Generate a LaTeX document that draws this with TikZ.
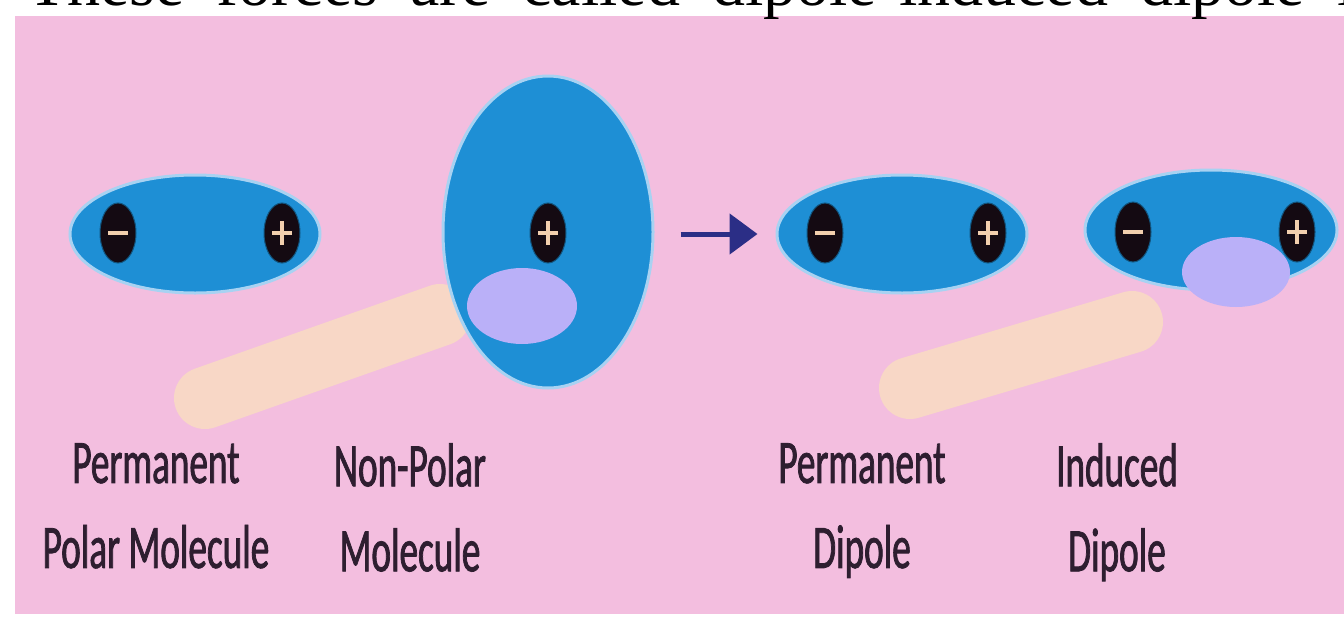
\documentclass[tikz,border=0pt]{standalone}
\usepackage{fontspec}
\usepackage{tikz}
\usetikzlibrary{arrows.meta,shapes.geometric,calc}
\setmainfont{Liberation Serif}
\newfontfamily\labelfont[FakeStretch=0.6,FakeBold=1.2]{Carlito}
\definecolor{pinkBg}{HTML}{F3BEDF}
\definecolor{molBlue}{HTML}{1E8FD5}
\definecolor{molEdge}{HTML}{A8D2F2}
\definecolor{chargeInk}{HTML}{140A12}
\definecolor{signPeach}{HTML}{F2CFAE}
\definecolor{blobLav}{HTML}{BAB0F8}
\definecolor{smearPeach}{HTML}{F8D7C6}
\definecolor{arrowNavy}{HTML}{2B2E86}
\definecolor{labelInk}{HTML}{2E1E30}
\tikzset{
  molecule/.style={ellipse, fill=molBlue, draw=molEdge, line width=3pt, inner sep=0pt},
  charge/.style={ellipse, fill=chargeInk, draw=molBlue!60!black, line width=1pt, inner sep=0pt, minimum width=36, minimum height=60},
  negcharge/.style={charge, path picture={\draw[signPeach, line width=4pt] (path picture bounding box.center) ++(-10,0) -- ++(20,0);}},
  poscharge/.style={charge, path picture={\draw[signPeach, line width=4pt] (path picture bounding box.center) ++(-10,0) -- ++(20,0);
      \draw[signPeach, line width=4pt] (path picture bounding box.center) ++(0,-12) -- ++(0,24);}},
  caption/.style={font=\labelfont\fontsize{62}{85}\selectfont, text=labelInk, align=center, anchor=north, inner sep=0pt},
  smear/.style={smearPeach, line width=62pt, line cap=round},
  arrflow/.style={-{Triangle[length=28pt, width=40pt]}, arrowNavy, line width=5pt},
}

\begin{document}
\begin{tikzpicture}[x=1pt, y=-1pt]
\useasboundingbox (0,0) rectangle (1344,616);
\fill[white] (0,0) rectangle (1344,616);
\fill[pinkBg] (15,16) rectangle (1344,614);

% heading line, only its lower edge shows
\begin{scope}
\clip (0,0) rectangle (1344,18);
\node[anchor=base west, inner sep=0pt, font=\fontsize{66}{72}\selectfont] (head) at (27,5) {\spaceskip=32pt These forces are called dipole-induced dipole interactions};
\end{scope}

% smudges behind the molecules
\draw[smear] (205,398) -- (440,315);
\draw[smear] (910,388) -- (1132,322);

% molecules
\node[molecule, minimum width=250, minimum height=118] (ppm) at (195,234) {};
\node[molecule, minimum width=210, minimum height=312] (npm) at (548,232) {};
\node[molecule, minimum width=250, minimum height=118] (pdip) at (902,234) {};
\node[molecule, minimum width=252, minimum height=120] (idip) at (1211,230) {};

% charge centres
\node[negcharge] (ppm-n) at (118,233) {};
\node[poscharge] (ppm-p) at (282,233) {};
\node[poscharge] (npm-p) at (548,233) {};
\node[negcharge] (pdip-n) at (825,233) {};
\node[poscharge] (pdip-p) at (988,233) {};
\node[negcharge] (idip-n) at (1133,232) {};
\node[poscharge] (idip-p) at (1297,232) {};

% lavender patches on top
\fill[blobLav] (522,306) ellipse [x radius=55, y radius=38];
\fill[blobLav] (1236,272) ellipse [x radius=54, y radius=35];

\draw[arrflow, shorten <=26pt, shorten >=18pt] (npm.east |- pdip.west) -- (pdip.west);

% captions
\node[caption] (lbl-ppm) at (156,443) {Permanent\\Polar Molecule};
\node[caption] (lbl-npm) at (410,443) {Non-Polar\\Molecule};
\node[caption] (lbl-pdip) at (862,443) {Permanent\\Dipole};
\node[caption] (lbl-idip) at (1117,443) {Induced\\Dipole};
\end{tikzpicture}
\end{document}
